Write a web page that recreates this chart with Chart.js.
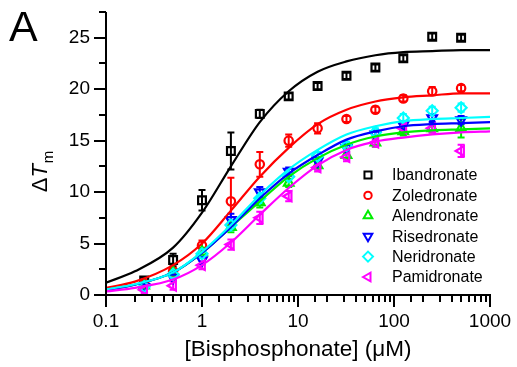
<!DOCTYPE html>
<html>
<head>
<meta charset="utf-8">
<script src="https://cdn.jsdelivr.net/npm/chart.js@4.4.1/dist/chart.umd.min.js"></script>
<style>
    html, body { margin: 0; padding: 0; background: #fff; }
    #wrap { width: 517px; height: 367px; }
</style>
</head>
<body>
<div id="wrap"><canvas id="chart" width="517" height="367"></canvas></div>
<script>
// measured concentrations (uM)
const concentrations = [0.25, 0.5, 1, 2, 4, 8, 16, 32, 64, 125, 250, 500];

const ibandronate = [1.4, 3.4, 9.2, 14.0, 17.6, 19.3, 20.3, 21.3, 22.1, 23.0, 25.1, 25.0];
const ibandronateErr = [0.3, 0.6, 1.0, 1.8, 0.4, 0.3, 0.3, 0.3, 0.3, 0.3, 0.3, 0.3];
const zoledronate = [1.1, 2.3, 4.8, 9.1, 12.7, 15.0, 16.2, 17.1, 18.0, 19.1, 19.8, 20.1];
const zoledronateErr = [0.3, 0.3, 0.5, 2.3, 1.2, 0.6, 0.5, 0.3, 0.3, 0.3, 0.4, 0.3];
const alendronate = [0.9, 2.2, 4.2, 6.6, 9.0, 10.9, 12.6, 13.6, 14.8, 15.9, 16.2, 16.2];
const alendronateErr = [0.3, 0.3, 0.4, 0.5, 0.5, 0.4, 0.4, 0.4, 0.4, 0.4, 0.4, 0.9];
const risedronate = [0.8, 1.7, 3.4, 7.3, 10.0, 12.0, 13.0, 14.3, 15.6, 16.5, 17.2, 17.0];
const risedronateErr = [0.3, 0.3, 0.4, 0.6, 0.5, 0.4, 0.4, 0.4, 0.4, 0.4, 0.4, 0.4];
const neridronate = [0.8, 2.0, 4.0, 6.8, 9.4, 11.5, 13.5, 14.5, 15.8, 17.2, 17.9, 18.2];
const neridronateErr = [0.3, 0.3, 0.4, 0.5, 0.5, 0.4, 0.4, 0.4, 0.4, 0.4, 0.4, 0.4];
const pamidronate = [0.5, 0.9, 2.9, 4.9, 7.5, 9.6, 12.4, 13.4, 14.8, 16.2, 16.2, 14.0];
const pamidronateErr = [0.3, 0.4, 0.4, 0.5, 0.6, 0.5, 0.4, 0.4, 0.4, 0.4, 0.4, 0.6];

// fitted curves
const fitX = [0.1, 0.2, 0.5, 1, 2, 4, 8, 16, 32, 64, 125, 250, 500, 1000];
const ibandronateFit = [1.2, 2.3, 4.6, 8.0, 12.5, 16.8, 19.8, 21.7, 22.7, 23.3, 23.6, 23.7, 23.8, 23.8];
const zoledronateFit = [0.7, 1.3, 2.9, 5.0, 8.2, 11.5, 14.3, 16.6, 18.0, 18.8, 19.2, 19.4, 19.6, 19.6];
const alendronateFit = [0.5, 1.0, 2.2, 4.1, 6.6, 9.1, 11.5, 13.3, 14.6, 15.4, 15.8, 16.0, 16.1, 16.2];
const risedronateFit = [0.5, 1.0, 2.2, 4.1, 6.6, 9.4, 11.8, 13.6, 15.1, 15.9, 16.4, 16.6, 16.7, 16.8];
const neridronateFit = [0.55, 1.05, 2.2, 4.2, 6.8, 9.7, 12.2, 14.1, 15.6, 16.4, 16.9, 17.1, 17.2, 17.3];
const pamidronateFit = [0.35, 0.7, 1.5, 2.9, 5.1, 7.8, 10.4, 12.6, 14.1, 14.9, 15.3, 15.6, 15.8, 15.9];

const xTickLabels = [0.1, 1, 10, 100, 1000];
const yTickLabels = [0, 5, 10, 15, 20, 25];

const series = [
    { label: 'Ibandronate', values: ibandronate, err: ibandronateErr, fit: ibandronateFit, color: '#000000', style: 'rect', rotation: 0, radius: 5.5 },
    { label: 'Zoledronate', values: zoledronate, err: zoledronateErr, fit: zoledronateFit, color: '#ff0000', style: 'circle', rotation: 0, radius: 4.2 },
    { label: 'Alendronate', values: alendronate, err: alendronateErr, fit: alendronateFit, color: '#00ee00', style: 'triangle', rotation: 0, radius: 5.5 },
    { label: 'Risedronate', values: risedronate, err: risedronateErr, fit: risedronateFit, color: '#0000ff', style: 'triangle', rotation: 180, radius: 5.5 },
    { label: 'Neridronate', values: neridronate, err: neridronateErr, fit: neridronateFit, color: '#00ffff', style: 'rectRot', rotation: 0, radius: 5.5 },
    { label: 'Pamidronate', values: pamidronate, err: pamidronateErr, fit: pamidronateFit, color: '#ff00ff', style: 'triangle', rotation: 270, radius: 5.5 }
];

function toPoints(xs, ys) {
    return xs.map(function (x, i) { return { x: x, y: ys[i] }; });
}

var datasets = [];
series.forEach(function (s, i) {
    datasets.push({
        label: s.label + ' fit',
        data: toPoints(fitX, s.fit),
        showLine: true,
        borderColor: s.color,
        borderWidth: 2.2,
        pointRadius: 0,
        cubicInterpolationMode: 'monotone',
        order: 6 - i
    });
});
series.forEach(function (s, i) {
    datasets.push({
        label: s.label,
        data: toPoints(concentrations, s.values),
        showLine: false,
        borderColor: s.color,
        backgroundColor: 'rgba(255,255,255,0)',
        pointStyle: s.style,
        rotation: s.rotation,
        pointRadius: s.radius,
        pointBorderWidth: 2.2,
        errors: s.err,
        order: 20 - i
    });
});

const axesPlugin = {
    id: 'axesPlugin',
    beforeDatasetsDraw: function (chart) {
        var ctx = chart.ctx;
        var xs = chart.scales.x, ys = chart.scales.y;
        // error bars
        chart.data.datasets.forEach(function (ds) {
            if (!ds.errors) return;
            ctx.save();
            ctx.strokeStyle = ds.borderColor;
            ctx.lineWidth = 2;
            ds.data.forEach(function (p, i) {
                var e = ds.errors[i];
                var px = xs.getPixelForValue(p.x);
                var top = ys.getPixelForValue(p.y + e);
                var bot = ys.getPixelForValue(Math.max(0, p.y - e));
                ctx.beginPath();
                ctx.moveTo(px, top); ctx.lineTo(px, bot);
                ctx.moveTo(px - 3.5, top); ctx.lineTo(px + 3.5, top);
                ctx.moveTo(px - 3.5, bot); ctx.lineTo(px + 3.5, bot);
                ctx.stroke();
            });
            ctx.restore();
        });
    },
    afterDraw: function (chart) {
        var ctx = chart.ctx;
        var area = chart.chartArea;
        var xs = chart.scales.x, ys = chart.scales.y;
        ctx.save();
        ctx.strokeStyle = '#000';
        ctx.lineWidth = 2;
        ctx.beginPath();
        ctx.moveTo(area.left, area.top);
        ctx.lineTo(area.left, area.bottom);
        ctx.lineTo(area.right + 1, area.bottom);
        ctx.stroke();
        ctx.beginPath();
        xs.ticks.forEach(function (t) {
            var px = Math.round(xs.getPixelForValue(t.value));
            var major = Math.abs(Math.log10(t.value) - Math.round(Math.log10(t.value))) < 1e-6;
            ctx.moveTo(px, area.bottom);
            ctx.lineTo(px, area.bottom + (major ? 12 : 7));
        });
        ys.ticks.forEach(function (t) {
            var py = Math.round(ys.getPixelForValue(t.value));
            var major = yTickLabels.indexOf(t.value) >= 0;
            ctx.moveTo(area.left, py);
            ctx.lineTo(area.left - (major ? 12 : 7), py);
        });
        ctx.stroke();

        // panel letter
        ctx.fillStyle = '#000';
        ctx.font = '43px Arial, "Liberation Sans", sans-serif';
        ctx.textAlign = 'left';
        ctx.textBaseline = 'alphabetic';
        ctx.fillText('A', 9, 41);

        // y title: ΔT with subscript m
        ctx.save();
        ctx.translate(47, 172);
        ctx.rotate(-Math.PI / 2);
        var f1 = '22px Arial, "Liberation Sans", sans-serif';
        var f2 = 'italic 22px Arial, "Liberation Sans", sans-serif';
        var f3 = '15px Arial, "Liberation Sans", sans-serif';
        ctx.font = f1; var w1 = ctx.measureText('\u0394').width;
        ctx.font = f2; var w2 = ctx.measureText('T').width;
        ctx.font = f3; var w3 = ctx.measureText('m').width;
        var x0 = -(w1 + w2 + w3) / 2;
        ctx.font = f1; ctx.fillText('\u0394', x0, 0);
        ctx.font = f2; ctx.fillText('T', x0 + w1, 0);
        ctx.font = f3; ctx.fillText('m', x0 + w1 + w2 + 1, 6);
        ctx.restore();

        // legend
        var helpers = Chart.helpers;
        ctx.font = '16px Arial, "Liberation Sans", sans-serif';
        ctx.textBaseline = 'middle';
        series.forEach(function (s, i) {
            var ly = 175 + i * 20.4;
            ctx.strokeStyle = s.color;
            ctx.fillStyle = 'rgba(255,255,255,0)';
            ctx.lineWidth = 2;
            helpers.drawPoint(ctx, { pointStyle: s.style, rotation: s.rotation, radius: s.radius - 0.5, borderWidth: 2 }, 368, ly);
            ctx.fillStyle = '#000';
            ctx.fillText(s.label, 392, ly + 1);
        });
        ctx.restore();
    }
};

new Chart(document.getElementById('chart'), {
    type: 'scatter',
    data: { datasets: datasets },
    options: {
        responsive: false,
        animation: false,
        layout: { padding: { top: 12, right: 27, left: 0, bottom: 0 } },
        plugins: { legend: { display: false }, tooltip: { enabled: false } },
        scales: {
            x: {
                type: 'logarithmic',
                min: 0.1,
                max: 1000,
                grid: { display: false, drawTicks: false },
                border: { display: false },
                ticks: {
                    autoSkip: false,
                    maxRotation: 0,
                    padding: 15,
                    color: '#000',
                    font: { family: 'Arial, "Liberation Sans", sans-serif', size: 19 },
                    callback: function (v) {
                        return xTickLabels.indexOf(Number(v)) >= 0 ? String(v) : '';
                    }
                },
                title: {
                    display: true,
                    text: '[Bisphosphonate] (\u03BCM)',
                    color: '#000',
                    padding: { top: 3 },
                    font: { family: 'Arial, "Liberation Sans", sans-serif', size: 22.5 }
                },
                afterFit: function (s) {
                    s.height = 72;
                    s.paddingLeft = 0;
                    s.paddingRight = 0;
                }
            },
            y: {
                min: 0,
                max: 27.5,
                grid: { display: false, drawTicks: false },
                border: { display: false },
                ticks: {
                    stepSize: 2.5,
                    autoSkip: false,
                    padding: 16,
                    color: '#000',
                    font: { family: 'Arial, "Liberation Sans", sans-serif', size: 19 },
                    callback: function (v) {
                        return yTickLabels.indexOf(v) >= 0 ? String(v) : '';
                    }
                },
                afterFit: function (s) {
                    s.width = 106;
                    s.paddingTop = 0;
                    s.paddingBottom = 0;
                }
            }
        }
    },
    plugins: [axesPlugin]
});
</script>
</body>
</html>
